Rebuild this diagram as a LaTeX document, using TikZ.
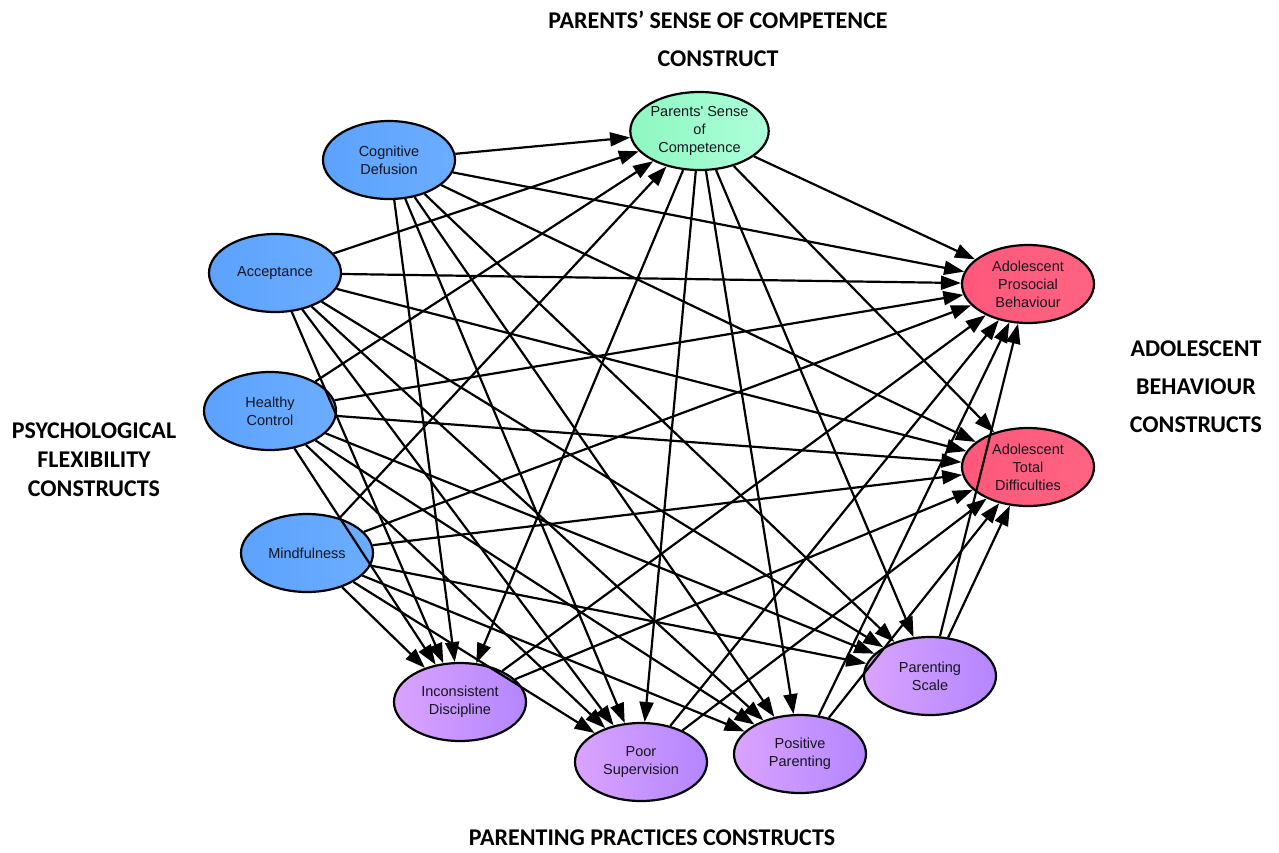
\documentclass[tikz,border=0pt]{standalone}
\usepackage{fontspec}
\setmainfont{Liberation Sans}[Ligatures=TeXOff]
\newfontfamily\titlefont{Carlito}
\usetikzlibrary{shapes.geometric,arrows.meta}

\definecolor{flexL}{HTML}{5CA2FE}
\definecolor{flexR}{HTML}{6BADFF}
\definecolor{pscL}{HTML}{8EF7C0}
\definecolor{pscR}{HTML}{ADFFDA}
\definecolor{outL}{HTML}{FF577A}
\definecolor{outR}{HTML}{FF6481}
\definecolor{parL}{HTML}{DAA3FF}
\definecolor{parR}{HTML}{B486FF}
\definecolor{txt}{HTML}{15151F}

\tikzset{
  construct/.style={ellipse, draw=black, line width=2.2pt,
    minimum width=132pt, minimum height=78pt, inner sep=0pt,
    align=center, text=txt, font=\fontsize{14.5}{18}\selectfont},
  flex/.style={construct, left color=flexL, right color=flexR},
  psc/.style={construct, left color=pscL, right color=pscR},
  outcome/.style={construct, left color=outL, right color=outR},
  practice/.style={construct, left color=parL, right color=parR},
  path/.style={draw=black, line width=2.2pt,
    -{Triangle[length=20pt,width=14pt]}},
  heading/.style={font=\titlefont\bfseries\fontsize{24}{38}\selectfont,
    align=center, text=black}
}

\begin{document}
\begin{tikzpicture}[x=1pt,y=-1pt]
\useasboundingbox (0,0) rectangle (1279,852);

% constructs
\node[flex] (cd)  at (389,160) {Cognitive\\Defusion};
\node[flex] (acc) at (275,273) {Acceptance};
\node[flex] (hc)  at (270,411) {Healthy\\Control};
\node[flex] (mf)  at (307,553) {Mindfulness};

\node[psc] (psc) at (699.5,131) {Parents' Sense\\of\\Competence};

\node[outcome] (apb) at (1028,284) {Adolescent\\Prosocial\\Behaviour};
\node[outcome] (atd) at (1028,467) {Adolescent\\Total\\Difficulties};

\node[practice] (id)  at (460,702) {Inconsistent\\Discipline};
\node[practice] (ps)  at (641,762) {Poor\\Supervision};
\node[practice] (pp)  at (800,754) {Positive\\Parenting};
\node[practice] (psc2) at (930,676) {Parenting\\Scale};

% structural paths
\foreach \s in {cd,acc,hc,mf}{
  \foreach \t in {psc,id,ps,pp,psc2,apb,atd}{
    \draw[path] (\s) -- (\t);
  }
}
\foreach \t in {id,ps,pp,psc2,apb,atd}{
  \draw[path] (psc) -- (\t);
}
\foreach \s in {id,ps,pp,psc2}{
  \foreach \t in {apb,atd}{
    \draw[path] (\s) -- (\t);
  }
}

% group headings
\node[heading] (hpsc) at (718,39) {PARENTS’ SENSE OF COMPETENCE\\CONSTRUCT};
\node[heading, font=\titlefont\bfseries\fontsize{24}{29}\selectfont] (hflex) at (94,460)
  {PSYCHOLOGICAL\\FLEXIBILITY\\CONSTRUCTS};
\node[heading] (hout) at (1196,387) {ADOLESCENT\\BEHAVIOUR\\CONSTRUCTS};
\node[heading] (hpar) at (652,838) {PARENTING PRACTICES CONSTRUCTS};
\end{tikzpicture}
\end{document}
